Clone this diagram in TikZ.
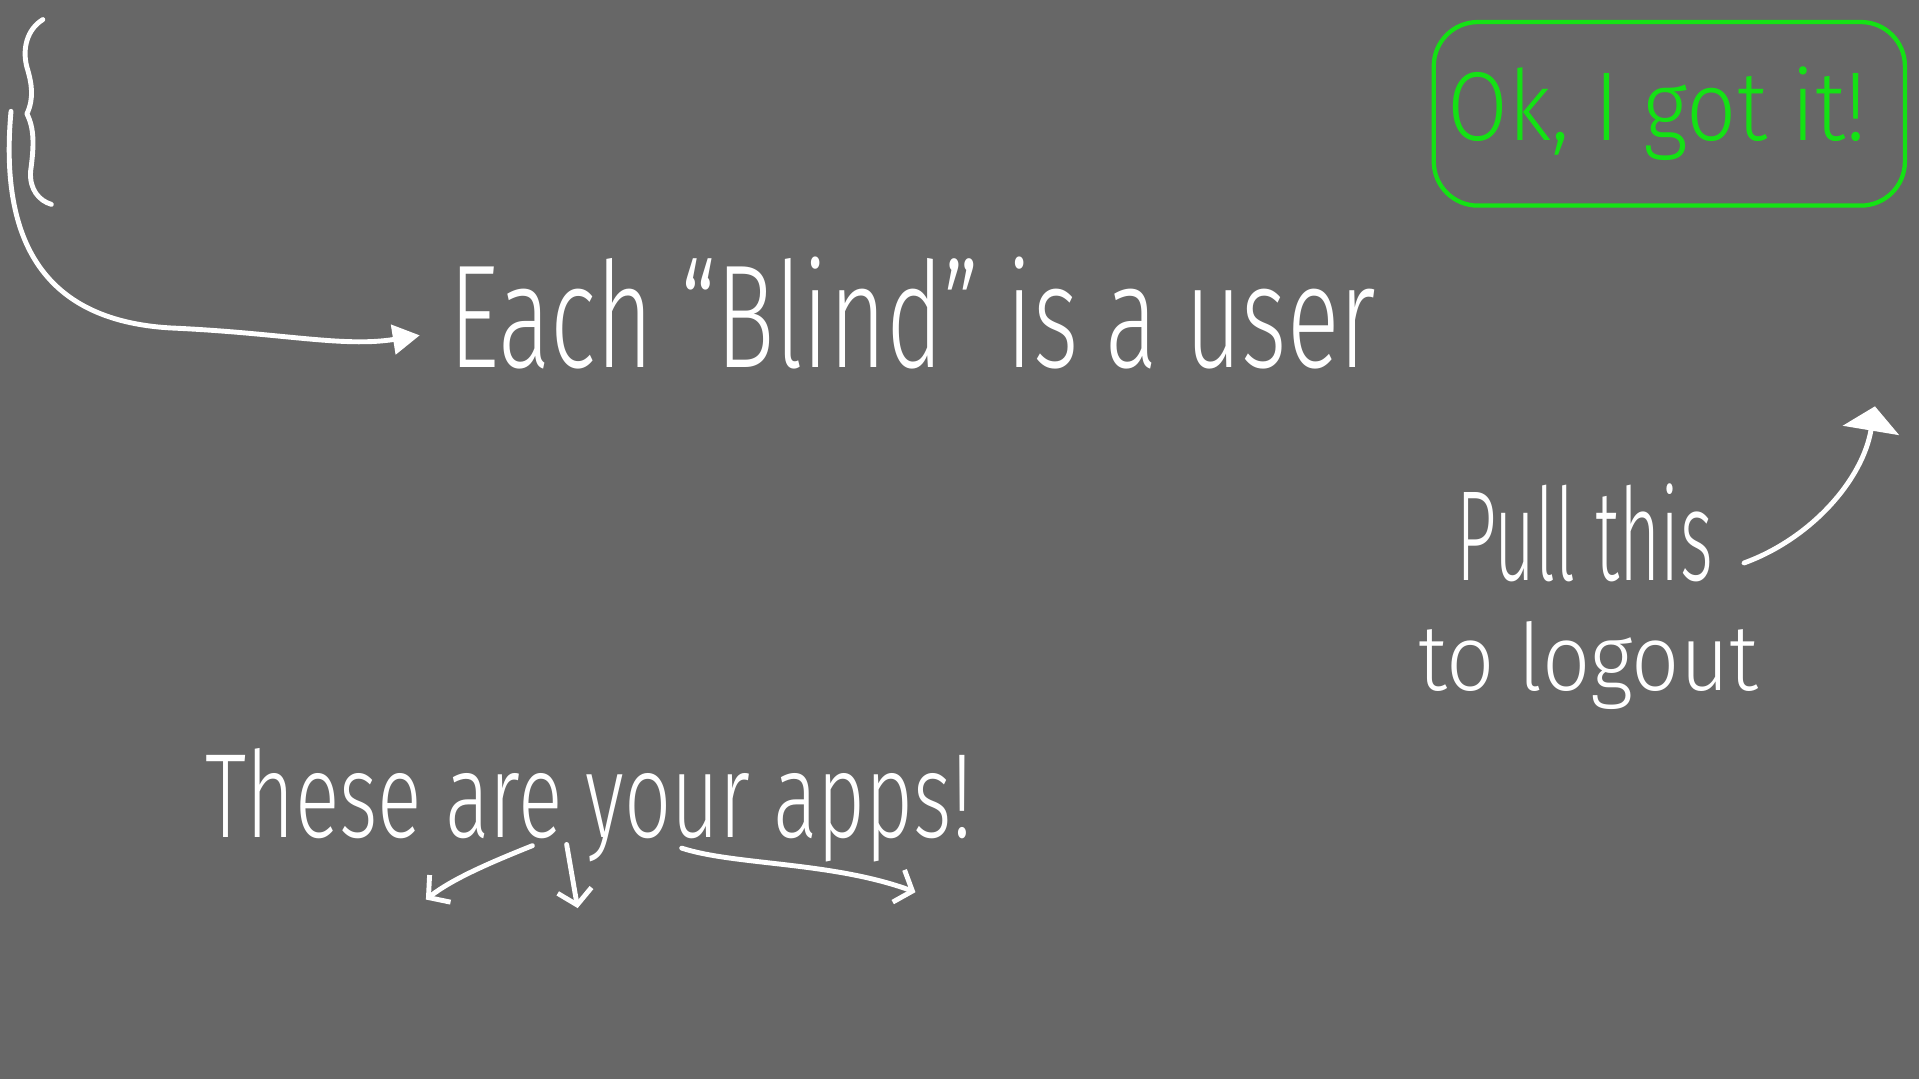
\documentclass[tikz,border=0pt]{standalone}
\usepackage{fontspec}
\usetikzlibrary{arrows.meta,calc,positioning}
\newfontfamily\chalkfont{Fira Sans Light}
\newcommand\chalksize[2]{\chalkfont\fontsize{#1}{#1}\selectfont\addfontfeature{FakeStretch=#2}}
\definecolor{BoardGray}{HTML}{676767}
\definecolor{ChalkGreen}{RGB}{20,226,20}
\tikzset{
  chalk/.style={text=white, inner sep=0pt, anchor=base west},
  chalkline/.style={draw=white, line width=4pt, line cap=round, line join=round},
  chalkarrow/.style={chalkline, -{Triangle[length=22pt,width=24pt]}},
  chalkbarb/.style={chalkline, -{Straight Barb[length=12pt,width=28pt]}},
  chalkhead/.style={chalkline, -{Triangle[length=20pt,width=46pt]}},
  okbox/.style={draw=ChalkGreen, text=ChalkGreen, line width=3.5pt, rounded corners=36pt, minimum width=385pt, minimum height=150pt, align=center}
}
\begin{document}
\begin{tikzpicture}[x=1pt,y=-1pt]
  \fill[BoardGray] (0,0) rectangle (1568,882);
  \useasboundingbox (0,0) rectangle (1568,882);
  % texts
  \node[chalk, font=\chalksize{120}{0.665}] (each) at (367,300) {Each “Blind” is a user};
  \node[chalk, font=\chalksize{98}{0.69}] (these) at (168,684) {These are your apps!};
  \node[chalk, font=\chalksize{105}{0.55}] (pull) at (1190,474) {Pull this};
  \node[chalk, font=\chalksize{76}{0.91}] (logout) at (1159,564) {to logout};
  \node[okbox, font=\chalksize{80}{0.9}] (ok) at (1364,93) {\hspace*{-20pt}\raisebox{-6pt}{Ok, I got it!}};
  % brace and arrow to the users
  \draw[chalkline] (35,16) .. controls (22,24) and (18,40) .. (22,55) .. controls (26,68) and (28,80) .. (22,93)
    .. controls (28,105) and (28,118) .. (25,140) .. controls (24,155) and (32,164) .. (42,167);
  \coordinate (bracetail) at (9,91);
  \coordinate (eachtip) at ($(each.base west)+(-24,-26)$);
  \draw[chalkarrow] (bracetail) .. controls (0,190) and (30,262) .. (140,268) .. controls (230,272) and (280,284) .. (eachtip);
  % pull arrow
  \coordinate (pullstart) at (1425,460);
  \coordinate (pulltip) at (1532,332);
  \draw[chalkhead] (pullstart) .. controls (1480,440) and (1522,392) .. (pulltip);
  % app arrows
  \coordinate (appsl) at (435,691);
  \coordinate (appsm) at (463,690);
  \coordinate (appsr) at (557,693);
  \draw[chalkbarb] (appsl) .. controls (400,705) and (370,718) .. (348,735);
  \draw[chalkbarb] (appsm) -- (472,742);
  \draw[chalkbarb] (appsr) .. controls (600,707) and (680,704) .. (748,729);
\end{tikzpicture}
\end{document}
